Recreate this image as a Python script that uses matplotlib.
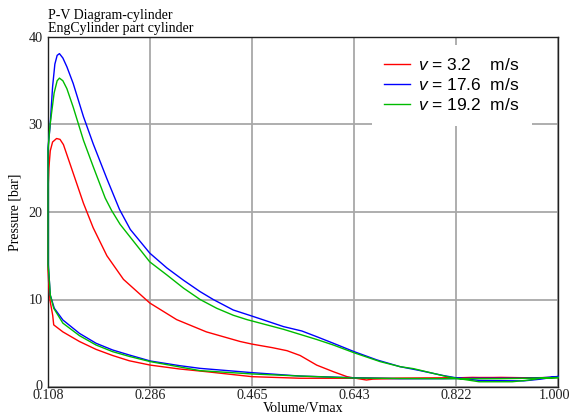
import numpy as np
import matplotlib
matplotlib.use('Agg')
import matplotlib.pyplot as plt
import matplotlib.transforms as mtransforms

plt.rcParams['mathtext.fontset'] = 'custom'
plt.rcParams['mathtext.it'] = 'Liberation Sans:italic'
plt.rcParams['mathtext.rm'] = 'Liberation Sans'

# v = 3.2 m/s : compression (V from 1 down to Vmin) then expansion back to 1
v_red = [1.0, 0.95, 0.9, 0.85, 0.8, 0.724, 0.643, 0.549, 0.465, 0.385, 0.338, 0.287, 0.250,
         0.221, 0.192, 0.163, 0.134, 0.118, 0.1162, 0.1115, 0.1095, 0.108,
         0.108, 0.1095, 0.112, 0.116, 0.123, 0.129, 0.135, 0.146, 0.158, 0.170, 0.187, 0.211,
         0.240, 0.286, 0.333, 0.385, 0.444, 0.465, 0.50, 0.526, 0.549, 0.578, 0.607, 0.631,
         0.643, 0.665, 0.676, 0.724, 0.80, 0.85, 0.9, 0.95, 1.0]
p_red = [1.1, 1.05, 1.1, 1.05, 1.0, 1.0, 1.0, 1.0, 1.18, 1.75, 2.06, 2.5, 3.0,
         3.6, 4.3, 5.2, 6.3, 7.1, 8.2, 9.9, 11.5, 13.4,
         22.3, 25.0, 27.0, 28.0, 28.4, 28.3, 27.7, 25.6, 23.3, 21.0, 18.2, 15.0,
         12.3, 9.6, 7.7, 6.3, 5.2, 4.9, 4.5, 4.15, 3.6, 2.5, 1.75, 1.18,
         1.03, 0.8, 0.9, 0.97, 1.0, 1.1, 1.05, 1.0, 1.1]

# v = 17.6 m/s
v_blue = [1.0, 0.97, 0.94, 0.9, 0.85, 0.8, 0.724, 0.643, 0.549, 0.465, 0.374, 0.338, 0.287,
          0.250, 0.221, 0.192, 0.163, 0.134, 0.119, 0.112, 0.110, 0.1085,
          0.108, 0.1115, 0.116, 0.120, 0.124, 0.128, 0.134, 0.141, 0.152, 0.170, 0.187, 0.211,
          0.233, 0.252, 0.286, 0.316, 0.345, 0.374, 0.397, 0.432, 0.465, 0.520, 0.552, 0.578,
          0.607, 0.643, 0.683, 0.724, 0.757, 0.80, 0.822, 0.862, 0.90, 0.94, 0.97, 1.0]
p_blue = [1.2, 1.05, 1.0, 1.0, 1.0, 0.95, 0.95, 1.06, 1.25, 1.64, 2.13, 2.44, 2.97,
          3.66, 4.23, 5.0, 6.13, 7.66, 9.0, 10.5, 12.5, 14.0,
          27.3, 29.7, 34.3, 36.9, 37.9, 38.1, 37.6, 36.6, 34.7, 30.9, 27.8, 23.8,
          20.3, 18.0, 15.3, 13.6, 12.2, 10.9, 10.0, 8.8, 8.1, 6.9, 6.4, 5.75,
          5.0, 4.05, 3.1, 2.32, 1.9, 1.3, 1.05, 0.75, 0.72, 0.7, 0.9, 1.2]

# v = 19.2 m/s
v_green = [1.0, 0.9, 0.8, 0.724, 0.643, 0.549, 0.465, 0.374, 0.287, 0.250, 0.221, 0.192,
           0.163, 0.134, 0.118, 0.112, 0.110, 0.108,
           0.108, 0.1115, 0.1187, 0.124, 0.128, 0.134, 0.141, 0.152, 0.170, 0.187, 0.208,
           0.219, 0.234, 0.286, 0.316, 0.345, 0.374, 0.403, 0.432, 0.456, 0.520, 0.578,
           0.607, 0.643, 0.689, 0.724, 0.747, 0.805, 0.822, 0.862, 0.92, 0.95, 0.97, 1.0]
p_green = [1.05, 0.95, 0.95, 0.97, 1.03, 1.25, 1.49, 1.87, 2.9, 3.5, 4.04, 4.8,
           5.87, 7.3, 9.0, 10.5, 12.5, 14.0,
           27.0, 29.9, 33.6, 35.0, 35.3, 35.0, 34.1, 32.0, 28.2, 25.2, 21.6,
           20.2, 18.6, 14.3, 12.8, 11.3, 10.0, 9.0, 8.2, 7.7, 6.59, 5.43,
           4.8, 3.92, 2.9, 2.32, 2.1, 1.2, 1.0, 0.6, 0.6, 0.8, 1.0, 1.1]

labels = [r'$v$ = 3.2    m/s', r'$v$ = 17.6  m/s', r'$v$ = 19.2  m/s']
xticks = [0.108, 0.286, 0.465, 0.643, 0.822, 1.000]
xticklabels = ['0.108', '0.286', '0.465', '0.643', '0.822', '1.000']
yticks = [0, 10, 20, 30, 40]

fig = plt.figure(figsize=(5.72, 4.2), dpi=100)
ax = fig.add_axes([48 / 572, 1 - 387 / 420, 510 / 572, 350 / 420])

ax.plot(v_red, p_red, color='#ff0000', lw=1.0, label=labels[0], zorder=3, clip_on=False)
ax.plot(v_blue, p_blue, color='#0000ff', lw=1.0, label=labels[1], zorder=3, clip_on=False)
ax.plot(v_green, p_green, color='#00bb00', lw=1.0, label=labels[2], zorder=3, clip_on=False)

ax.set_xlim(0.108, 1.0)
ax.set_ylim(0, 40)
ax.set_xticks(xticks)
ax.set_xticklabels(xticklabels)
ax.set_yticks(yticks)
ax.tick_params(length=0, labelsize=10.2)
ax.tick_params(axis='x', pad=1.5)
ax.tick_params(axis='y', pad=4)
for lab in ax.get_xticklabels() + ax.get_yticklabels():
    lab.set_family('Liberation Serif')
    lab.set_color('#202020')

# last x label sits against the right edge, "0" y label a bit higher
xl = ax.get_xticklabels()[-1]
xl.set_transform(xl.get_transform() + mtransforms.ScaledTranslation(-3 / 100, 0, fig.dpi_scale_trans))
yl = ax.get_yticklabels()[0]
yl.set_transform(yl.get_transform() + mtransforms.ScaledTranslation(0, 2 / 100, fig.dpi_scale_trans))

ax.grid(True, color='#a8a8a8', linewidth=1.3)
ax.set_axisbelow(True)
for s in ax.spines.values():
    s.set_color('#202020')
    s.set_linewidth(1.0)

ax.set_xlabel('Volume/Vmax', family='Liberation Serif', fontsize=10, labelpad=0)
ax.set_ylabel('Pressure [bar]', family='Liberation Serif', fontsize=10, labelpad=5)

fig.text(48 / 572, 1 - 19 / 420, 'P-V Diagram-cylinder',
         family='Liberation Serif', fontsize=10, va='baseline', ha='left')
fig.text(48 / 572, 1 - 32 / 420, 'EngCylinder part cylinder',
         family='Liberation Serif', fontsize=10, va='baseline', ha='left')

leg = ax.legend(loc='upper left', bbox_to_anchor=((372 - 48) / 510, 1 - 8 / 350),
                borderaxespad=0, frameon=True, fancybox=False, framealpha=1,
                edgecolor='white', prop={'family': 'Liberation Sans', 'size': 12.5},
                handlelength=1.5, handletextpad=0.46, labelspacing=0.24, borderpad=0.7)
leg.get_frame().set_linewidth(0)

fig.savefig('out.png', dpi=100)
